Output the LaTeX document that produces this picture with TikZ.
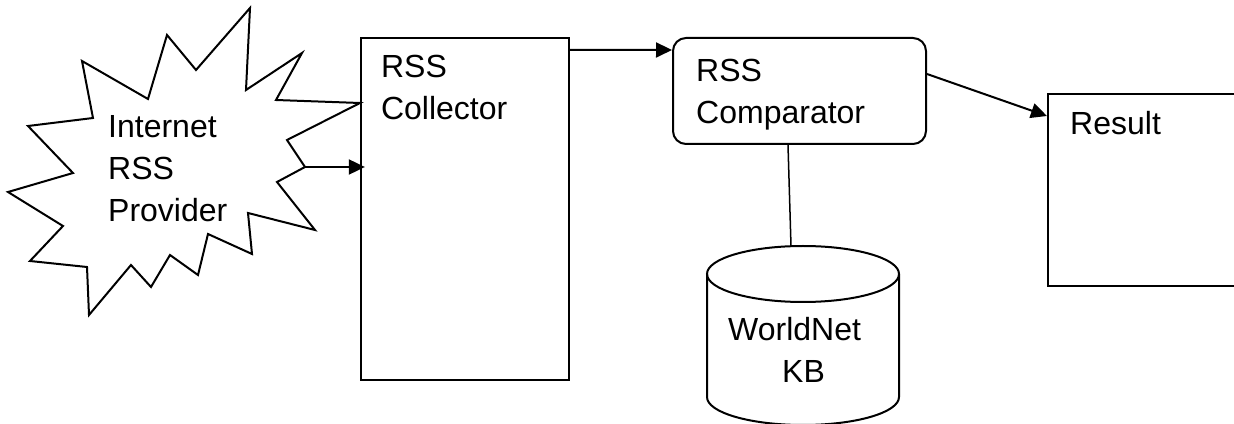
\documentclass[tikz,border=0pt]{standalone}
\usepackage{fontspec}
\setmainfont{Liberation Sans}
\usetikzlibrary{arrows.meta}

\tikzset{
  box/.style={draw, line width=2pt, inner sep=0pt},
  txt/.style={align=left, inner sep=0pt, font=\fontsize{32}{42}\selectfont},
  flow/.style={line width=2pt, -{Triangle[length=16pt,width=15pt]}},
}

\begin{document}
\begin{tikzpicture}[x=1pt,y=1pt]
\useasboundingbox (0,0) rectangle (1234,423);
\clip (0,0) rectangle (1234,423);

% provider burst
\draw[line width=2pt] (250,415) -- (246,333) -- (302,370) -- (276,323) -- (360,320)
  -- (287,283) -- (305,256) -- (277,241) -- (315,193) -- (248,210) -- (252,169)
  -- (208,189) -- (198,148) -- (170,168) -- (151,136) -- (131,158) -- (89,108)
  -- (87,156) -- (30,162) -- (63,197) -- (8,231) -- (73,250) -- (28,297)
  -- (93,305) -- (82,362) -- (148,324) -- (167,388) -- (196,353) -- cycle;
\coordinate (burstTip) at (305,256);
\node[txt, anchor=north west] (prov) at (108,308) {Internet\\RSS\\Provider};

\node[box, line width=2.3pt, minimum width=208pt, minimum height=342pt] (coll) at (465,214) {};
\node[txt, anchor=north west] at ([shift={(21,-18)}]coll.north west) {RSS\\Collector};

\node[box, rounded corners=13pt, minimum width=253pt, minimum height=106pt] (comp) at (799.5,332) {};
\node[txt, anchor=north west] at ([shift={(24,-22)}]comp.north west) {RSS\\Comparator};

\node[box, minimum width=202pt, minimum height=192pt] (res) at (1149,233) {};
\node[txt, anchor=north west] at ([shift={(23,-18)}]res.north west) {Result};

% knowledge base drum
\draw[line width=2pt] (803,149) ellipse (96pt and 28pt);
\draw[line width=2pt] (707,149) -- (707,26) arc (180:360:96pt and 28pt) -- (899,149);
\coordinate (kbtop) at (791,177);
\node[txt, anchor=north west] (kb) at (728,106) {WorldNet\\\hspace*{54pt}KB};

\draw[flow, shorten >=-5pt] (burstTip) -- (burstTip -| coll.west);
\draw[flow] ([yshift=-13pt]coll.north east) -- ([yshift=-13pt]comp.north west);
\draw[flow] ([yshift=-37pt]comp.north east) -- ([yshift=-23pt]res.north west);
\draw[line width=1.5pt] ([xshift=-11.5pt]comp.south) -- (kbtop);
\end{tikzpicture}
\end{document}
